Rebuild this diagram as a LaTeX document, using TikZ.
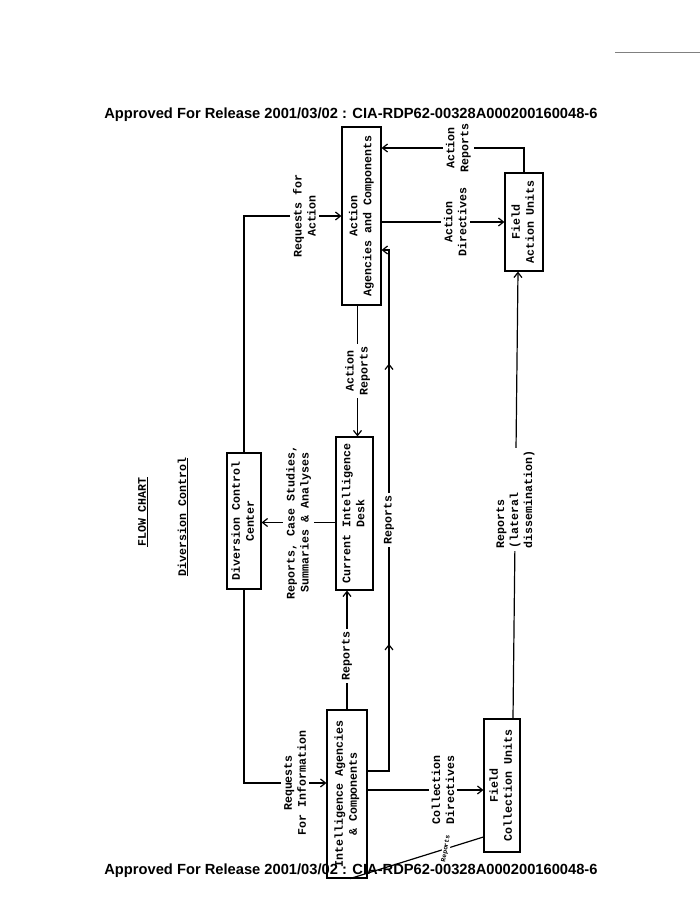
\documentclass[tikz,border=0pt]{standalone}
\usepackage{fontspec}
\setmainfont{Liberation Sans}
\setsansfont{Liberation Sans}
\setmonofont{Liberation Mono}
\usepackage{tikz}
\usetikzlibrary{arrows.meta,calc,decorations.markings}
\newcommand{\tyfont}{\ttfamily\bfseries\fontsize{11.6}{14}\selectfont}
\newcommand{\vtext}[1]{\rotatebox{90}{\begin{tabular}{@{}c@{}}#1\end{tabular}}}

\begin{document}
\begin{tikzpicture}[
  x=1pt, y=-1pt,
  box/.style = {rectangle, draw, line width=1.2pt, inner sep=0pt, font=\tyfont},
  lbl/.style = {rotate=90, align=center, fill=white, inner sep=3pt, font=\tyfont},
  arrow/.style = {-{Straight Barb[length=5pt,width=8pt]}, line width=1.2pt},
  uparrows/.style = {postaction={decorate}, decoration={markings,
      mark=at position 0.27 with {\arrow{Straight Barb[length=5pt,width=8pt]}},
      mark=at position 0.78 with {\arrow{Straight Barb[length=5pt,width=8pt]}}}},
  stamp/.style = {font=\sffamily\bfseries\fontsize{14.7}{17}\selectfont, inner sep=0pt},
]
\fill[white] (0,0) rectangle (700,906);
\useasboundingbox (0,0) rectangle (700,906);

\node[stamp] (hdr) at (351,115) {Approved For Release 2001/03/02 : CIA-RDP62-00328A000200160048-6};
\node[stamp] (ftr) at (351,871) {Approved For Release 2001/03/02 : CIA-RDP62-00328A000200160048-6};
\draw[gray, line width=1pt] (615,52) -- (700,52);

\node[font=\tyfont, rotate=90] (title) at (143,512) {\underline{FLOW CHART}};
\node[font=\tyfont, rotate=90] (subtitle) at (183,517) {\underline{Diversion Control}};

\node[box, minimum width=39pt, minimum height=178pt] (act) at (361.5,216) {\vtext{Action\\Agencies and Components}};
\node[box, minimum width=38pt, minimum height=98pt] (fau) at (524,222) {\vtext{Field\\Action Units}};
\node[box, minimum width=34pt, minimum height=136pt] (dcc) at (244,521) {\vtext{Diversion Control\\Center}};
\node[box, minimum width=37pt, minimum height=153pt] (cid) at (354.5,513.5) {\vtext{Current Intelligence\\Desk}};
\node[box, minimum width=40pt, minimum height=168pt] (iac) at (347,794) {\vtext{Intelligence Agencies\\\& Components}};
\node[box, minimum width=36pt, minimum height=133pt] (fcu) at (502,785.5) {\vtext{Field\\Collection Units}};

\coordinate (rtop) at (389,250);
\coordinate (ar) at ($(act.south)+(-4,0)$);
\coordinate (rcs) at ($(cid.west)+(0,9)$);
\coordinate (cdy) at (0,790);

\draw[arrow] (dcc.north) |- (act.west) node[lbl, pos=0.81] {Requests for\\Action};
\draw[arrow] (dcc.south) |- ($(iac.west)+(0,-11)$) node[lbl, pos=0.81] {Requests\\For Information};
\draw[arrow] (iac.north) -- (iac.north |- cid.south) node[lbl, pos=0.45] {Reports};
\draw[arrow, uparrows] ($(iac.east)+(0,-23)$) -| (rtop) -- (rtop -| act.east);
\node[lbl] (rep) at (389,520) {Reports};
\draw[arrow] (ar) -- (ar |- cid.north) node[lbl, midway] {Action\\Reports};
\draw[arrow] (rcs) -- (rcs -| dcc.east) node[lbl, midway] {Reports, Case Studies,\\Summaries \& Analyses};
\draw[arrow] (act.east |- fau.west) -- (fau.west) node[lbl, pos=0.6] {Action\\Directives};
\draw[arrow] (fau.north) |- ($(act.east)+(0,-68)$) node[lbl, pos=0.73] {Action\\Reports};
\draw[arrow] (iac.east |- cdy) -- (fcu.west |- cdy) node[lbl, pos=0.65] {Collection\\Directives};
\draw[arrow] ($(fcu.north)+(11,0)$) -- ($(fau.south)+(-6,0)$) node[lbl, pos=0.49, align=left] {Reports\\(lateral\\dissemination)};
\draw[line width=1.2pt] ($(fcu.west)+(0,51.5)$) -- ($(iac.south)+(3,0)$) node[pos=0.28, rotate=80, fill=white, inner sep=1pt, font=\ttfamily\bfseries\fontsize{6.5}{8}\selectfont] {Reports};
\end{tikzpicture}
\end{document}
